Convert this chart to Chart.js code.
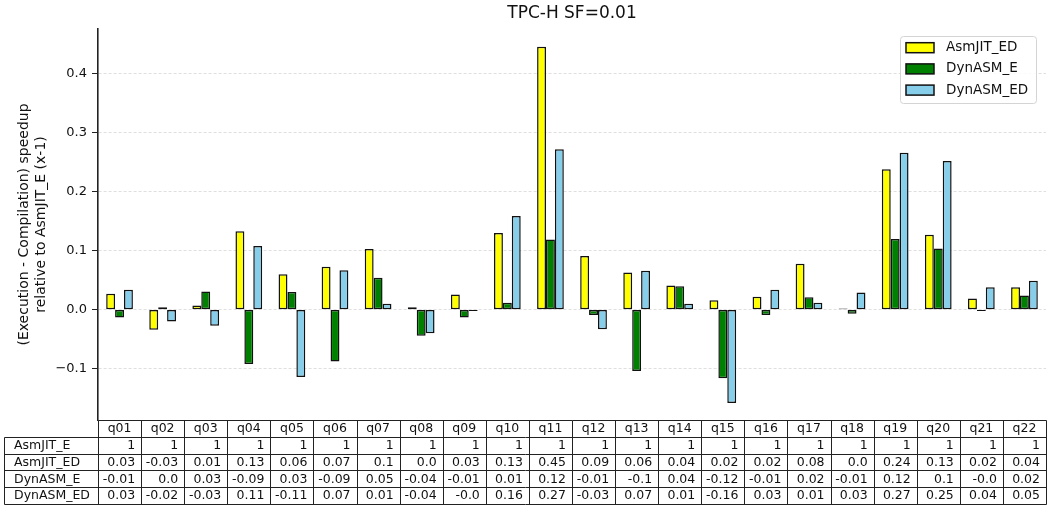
<!DOCTYPE html>
<html>
<head>
<meta charset="utf-8">
<title>TPC-H SF=0.01</title>
<script src="https://cdn.jsdelivr.net/npm/chart.js@4.4.1/dist/chart.umd.min.js"></script>
<style>
  html, body { margin: 0; padding: 0; background: #fff; }
  #wrap { width: 1047px; height: 506px; }
</style>
</head>
<body>
<div id="wrap"><canvas id="chart" width="1047" height="506"></canvas></div>
<script>
// Queries on the x axis
const queries = ['q01','q02','q03','q04','q05','q06','q07','q08','q09','q10','q11',
                 'q12','q13','q14','q15','q16','q17','q18','q19','q20','q21','q22'];

// Speedup relative to AsmJIT_E, minus one
const asmjitE   = [1, 1, 1, 1, 1, 1, 1, 1, 1, 1, 1, 1, 1, 1, 1, 1, 1, 1, 1, 1, 1, 1];
const asmjitED  = [0.027, -0.034, 0.007, 0.133, 0.060, 0.073, 0.103, 0.004, 0.026, 0.130, 0.446,
                   0.091, 0.063, 0.041, 0.016, 0.022, 0.078, 0.002, 0.238, 0.127, 0.019, 0.038];
const dynasmE   = [-0.013, 0.004, 0.031, -0.092, 0.030, -0.088, 0.054, -0.044, -0.013, 0.012, 0.119,
                   -0.009, -0.104, 0.040, -0.116, -0.009, 0.021, -0.007, 0.120, 0.104, -0.002, 0.024];
const dynasmED  = [0.034, -0.020, -0.027, 0.108, -0.114, 0.067, 0.010, -0.040, -0.002, 0.159, 0.272,
                   -0.033, 0.066, 0.010, -0.158, 0.034, 0.012, 0.029, 0.266, 0.252, 0.038, 0.049];

// Y axis tick values
const yTicks = [-0.1, 0.0, 0.1, 0.2, 0.3, 0.4];

const FONT = "'DejaVu Sans', 'Liberation Sans', sans-serif";

const seriesNames = ['AsmJIT_ED', 'DynASM_E', 'DynASM_ED'];
const seriesData = [asmjitED, dynasmE, dynasmED];
const seriesColors = ['#ffff00', '#008000', '#87ceeb'];

const tableRows = [
  { name: 'AsmJIT_E', values: asmjitE },
  { name: 'AsmJIT_ED', values: asmjitED },
  { name: 'DynASM_E', values: dynasmE },
  { name: 'DynASM_ED', values: dynasmED }
];

// Same text as Python's str(round(v, 2))
function cellText(v) {
  if (Number.isInteger(v)) return String(v);
  const r = Math.round(Math.abs(v) * 100) / 100;
  let s = String(r);
  if (s.indexOf('.') < 0) s += '.0';
  return (v < 0 ? '-' : '') + s;
}

const background = {
  id: 'background',
  beforeDraw(chart) {
    const c = chart.ctx;
    c.save();
    c.fillStyle = '#fff';
    c.fillRect(0, 0, chart.width, chart.height);
    c.restore();
  }
};

const titlePlugin = {
  id: 'plotTitle',
  afterDraw(chart) {
    const c = chart.ctx, a = chart.chartArea;
    c.save();
    c.font = '17px ' + FONT;
    c.fillStyle = '#111';
    c.textAlign = 'center';
    c.textBaseline = 'middle';
    c.fillText('TPC-H SF=0.01', (a.left + a.right) / 2, 14);
    c.restore();
  }
};

const legendPlugin = {
  id: 'boxLegend',
  afterDraw(chart) {
    const c = chart.ctx, a = chart.chartArea;
    const w = 136, h = 67;
    const x0 = a.right - 10 - w, y0 = a.top + 7;
    c.save();
    c.beginPath();
    c.roundRect(x0 + 0.5, y0 + 0.5, w, h, 3);
    c.fillStyle = 'rgba(255,255,255,0.85)';
    c.fill();
    c.strokeStyle = '#d4d4d4';
    c.lineWidth = 1;
    c.stroke();
    chart.data.datasets.forEach((ds, i) => {
      const cy = y0 + 11.7 + i * 21.2;
      c.fillStyle = ds.backgroundColor;
      c.fillRect(x0 + 6, cy - 5, 28, 10);
      c.strokeStyle = '#111';
      c.lineWidth = 1.5;
      c.strokeRect(x0 + 6, cy - 5, 28, 10);
      c.fillStyle = '#111';
      c.font = '13.5px ' + FONT;
      c.textAlign = 'left';
      c.textBaseline = 'middle';
      c.fillText(ds.label, x0 + 46, cy);
    });
    c.restore();
  }
};

const tablePlugin = {
  id: 'dataTable',
  afterDraw(chart) {
    const c = chart.ctx, a = chart.chartArea, x = chart.scales.x;
    const colW = x.getPixelForValue(1) - x.getPixelForValue(0);
    const rowH = 16.8;
    const top = a.bottom;
    const labelLeft = 4;
    const nRows = tableRows.length + 1;
    const px = v => Math.round(v) + 0.5;

    // column edges from the category scale
    const edges = queries.map((q, i) => x.getPixelForValue(i) - colW / 2);
    edges.push(x.getPixelForValue(queries.length - 1) + colW / 2);
    const rowY = [];
    for (let r = 0; r <= nRows; r++) rowY.push(top + r * rowH);

    c.save();
    c.strokeStyle = '#222';
    c.lineWidth = 1;
    c.beginPath();
    // horizontal lines
    c.moveTo(px(edges[0]), px(rowY[0]));
    c.lineTo(px(edges[edges.length - 1]), px(rowY[0]));
    for (let r = 1; r <= nRows; r++) {
      c.moveTo(px(labelLeft), px(rowY[r]));
      c.lineTo(px(edges[edges.length - 1]), px(rowY[r]));
    }
    // vertical lines
    c.moveTo(px(labelLeft), px(rowY[1]));
    c.lineTo(px(labelLeft), px(rowY[nRows]));
    edges.forEach(e => {
      c.moveTo(px(e), px(rowY[0]));
      c.lineTo(px(e), px(rowY[nRows]));
    });
    c.stroke();

    c.fillStyle = '#111';
    c.font = '12.5px ' + FONT;
    c.textBaseline = 'middle';
    c.textAlign = 'center';
    queries.forEach((q, i) => c.fillText(q, x.getPixelForValue(i), rowY[0] + rowH / 2 + 0.5));
    tableRows.forEach((row, r) => {
      const cy = rowY[r + 1] + rowH / 2 + 0.5;
      c.textAlign = 'left';
      c.fillText(row.name, labelLeft + 10, cy);
      c.textAlign = 'right';
      row.values.forEach((v, i) => c.fillText(cellText(v), edges[i + 1] - 6, cy));
    });
    c.restore();
  }
};

new Chart(document.getElementById('chart'), {
  type: 'bar',
  data: {
    labels: queries,
    datasets: seriesNames.map((name, i) => ({
      label: name,
      data: seriesData[i],
      backgroundColor: seriesColors[i],
      borderColor: '#111',
      borderWidth: 1.5,
      borderSkipped: false,
      categoryPercentage: 0.62,
      barPercentage: 1.0
    }))
  },
  options: {
    responsive: false,
    animation: false,
    layout: { padding: { top: 29, right: 1, bottom: 86, left: 0 } },
    plugins: {
      legend: { display: false },
      title: { display: false },
      tooltip: { enabled: false }
    },
    scales: {
      x: { display: false },
      y: {
        min: -0.187,
        max: 0.476,
        afterFit(scale) { scale.width = 98; },
        afterBuildTicks(scale) { scale.ticks = yTicks.map(v => ({ value: v })); },
        ticks: {
          stepSize: 0.1,
          includeBounds: false,
          padding: 5,
          color: '#111',
          font: { family: FONT, size: 13 },
          callback: v => {
            const r = Math.round(v * 10) / 10;
            return (r < 0 ? '\u2212' : '') + Math.abs(r).toFixed(1);
          }
        },
        grid: {
          color: 'rgba(0,0,0,0.16)',
          lineWidth: 0.8,
          tickColor: '#222',
          tickWidth: 1.2,
          tickLength: 6,
          tickBorderDash: [1, 0]
        },
        border: { display: true, color: '#222', width: 1.6, dash: [3, 2] },
        title: {
          display: true,
          text: ['(Execution - Compilation) speedup', 'relative to AsmJIT_E (x-1)'],
          color: '#111',
          font: { family: FONT, size: 14 },
          padding: { top: 16, bottom: 0 }
        }
      }
    }
  },
  plugins: [background, tablePlugin, legendPlugin, titlePlugin]
});
</script>
</body>
</html>
